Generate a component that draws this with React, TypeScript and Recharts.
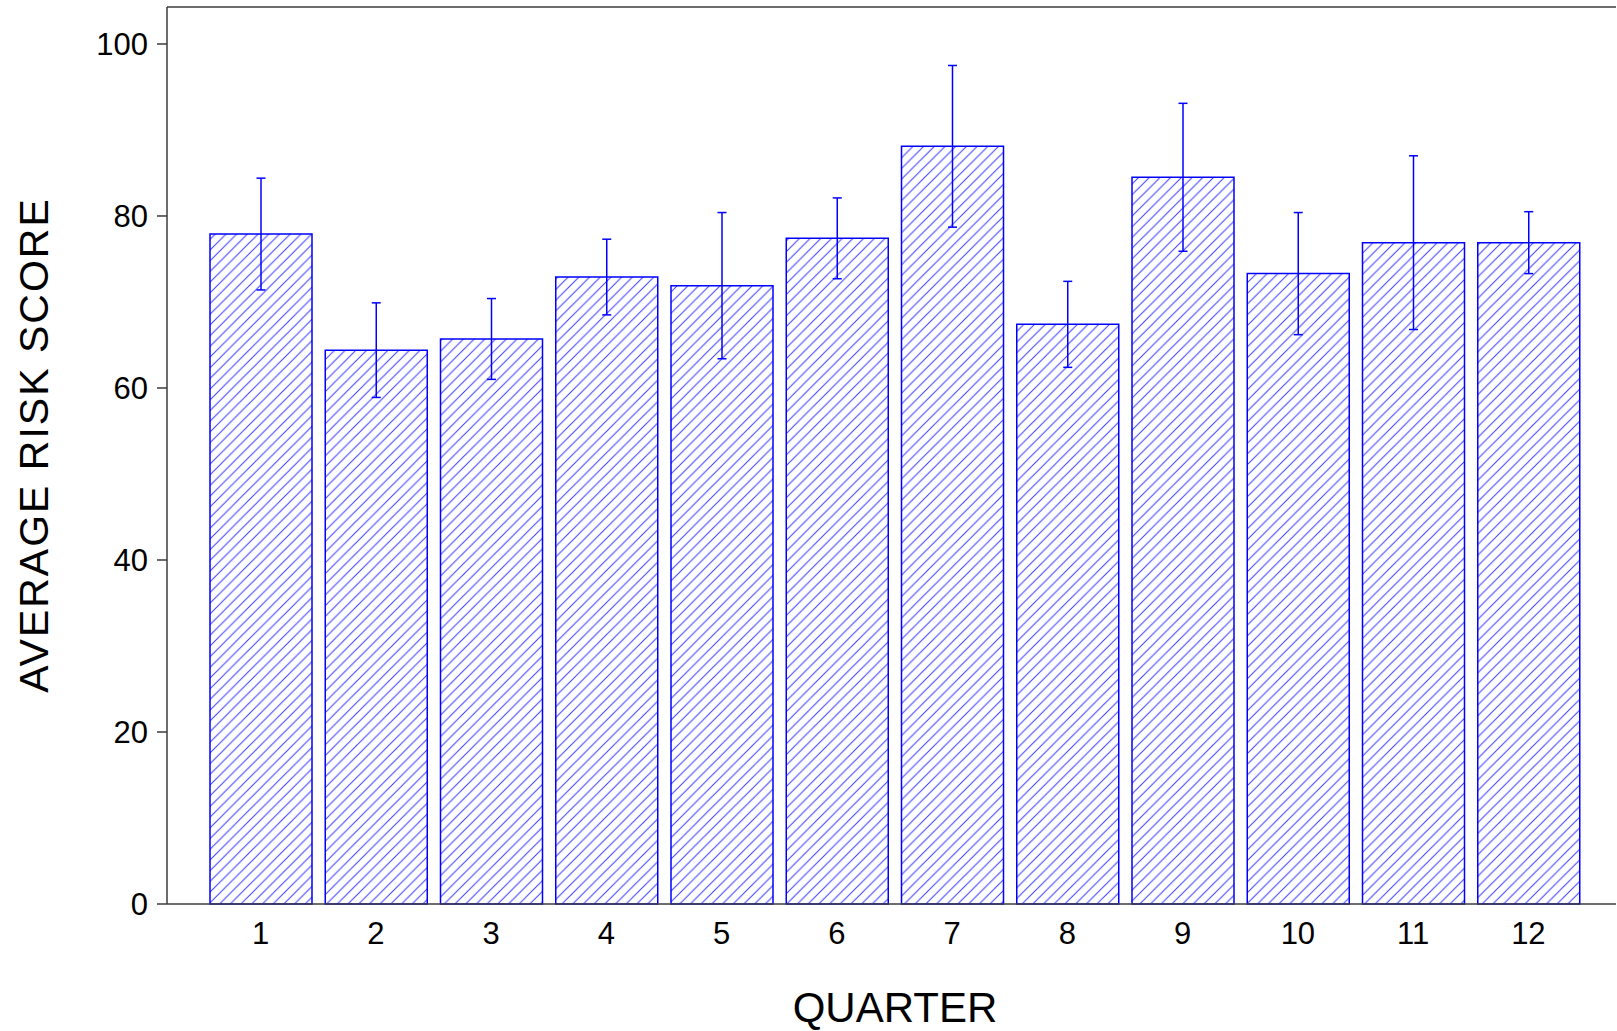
import React from "react";
import { Bar, BarChart, ErrorBar, ReferenceLine, XAxis, YAxis } from "recharts";

const quarters = ["1", "2", "3", "4", "5", "6", "7", "8", "9", "10", "11", "12"];
const scores = [77.9, 64.4, 65.7, 72.9, 71.9, 77.4, 88.1, 67.4, 84.5, 73.3, 76.9, 76.9];
const errors = [6.5, 5.5, 4.7, 4.4, 8.5, 4.7, 9.4, 5.0, 8.6, 7.1, 10.1, 3.6];
const yTicks = [0, 20, 40, 60, 80, 100];
const yMax = 104.3;

const data = quarters.map((q, i) => ({ q, score: scores[i], err: errors[i] }));

const BLUE = "#0000ff";
const AXIS = "#3c3c3c";
const FONT = '"Liberation Sans", Arial, sans-serif';

function YTick({ x, y, payload }: any) {
  return (
    <text x={x - 9} y={y + 11} textAnchor="end" fontSize={31} fontFamily={FONT} fill="#000">
      {payload.value}
    </text>
  );
}

function XTick({ x, y, payload }: any) {
  return (
    <text x={x} y={y + 38} textAnchor="middle" fontSize={31} fontFamily={FONT} fill="#000">
      {payload.value}
    </text>
  );
}

export default function App() {
  return (
    <div style={{ position: "absolute", left: 0, top: 0, background: "#fff" }}>
      <BarChart
        width={1617}
        height={1031}
        data={data}
        margin={{ top: 7, right: 1, left: 0, bottom: 0 }}
        barSize={102}
      >
        <defs>
          <pattern id="hatch" patternUnits="userSpaceOnUse" width={10.7} height={10.7}>
            <path
              d="M0,10.7 L10.7,0 M-2,2 L2,-2 M8.7,12.7 L12.7,8.7"
              stroke="#3a3aff"
              strokeWidth={1}
            />
          </pattern>
        </defs>
        <XAxis
          dataKey="q"
          height={127}
          tickLine={false}
          tickSize={0}
          tick={<XTick />}
          interval={0}
          padding={{ left: 36, right: 30 }}
          axisLine={{ stroke: AXIS, strokeWidth: 1.5 }}
          label={() => (
            <text x={895} y={1022} textAnchor="middle" fontSize={42} fontFamily={FONT} fill="#000">
              QUARTER
            </text>
          )}
        />
        <YAxis
          width={167}
          domain={[0, yMax]}
          ticks={yTicks}
          tickSize={10}
          tickMargin={0}
          tick={<YTick />}
          tickLine={{ stroke: AXIS, strokeWidth: 1.5 }}
          axisLine={{ stroke: AXIS, strokeWidth: 1.5 }}
          label={() => (
            <text
              x={34}
              y={445}
              transform="rotate(-90, 34, 445)"
              textAnchor="middle"
              dominantBaseline="central"
              fontSize={41}
              letterSpacing={2}
              fontFamily={FONT}
              fill="#000"
            >
              AVERAGE RISK SCORE
            </text>
          )}
        />
        <ReferenceLine y={yMax} stroke={AXIS} strokeWidth={1.5} ifOverflow="visible" />
        <Bar
          dataKey="score"
          fill="url(#hatch)"
          stroke={BLUE}
          strokeWidth={1.5}
          isAnimationActive={false}
        >
          <ErrorBar dataKey="err" width={4.5} stroke={BLUE} strokeWidth={1.5} direction="y" />
        </Bar>
      </BarChart>
    </div>
  );
}
